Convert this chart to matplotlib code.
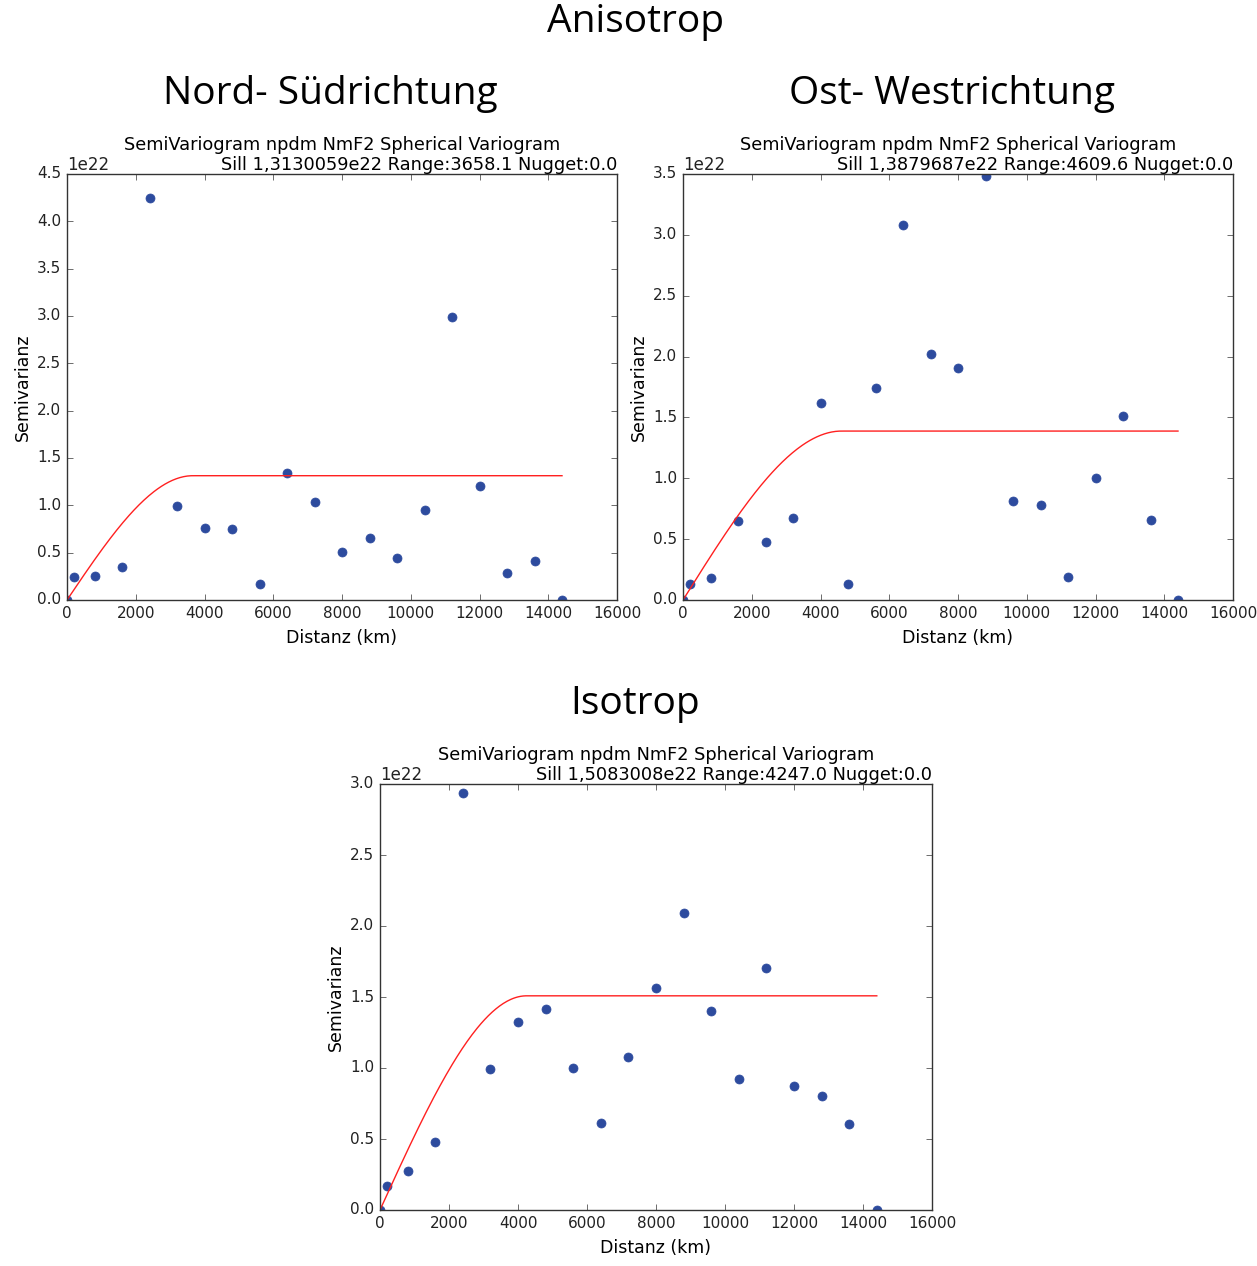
# Semivariogram comparison: anisotropic (N-S, E-W) and isotropic fit

import numpy as np
import matplotlib.pyplot as plt

plt.style.use('classic')

# Lag distances (km)
lags = [0, 200, 800, 1600, 2400, 3200, 4000, 4800, 5600, 6400, 7200,
        8000, 8800, 9600, 10400, 11200, 12000, 12800, 13600, 14400]

# Experimental semivariance in units of 1e22
gamma_ns = [0.0, 0.24, 0.25, 0.35, 4.25, 0.99, 0.76, 0.75, 0.165, 1.34, 1.035,
            0.51, 0.66, 0.44, 0.95, 2.99, 1.20, 0.28, 0.41, 0.0]
gamma_ew = [0.0, 0.13, 0.18, 0.645, 0.477, 0.674, 1.622, 0.134, 1.74, 3.083, 2.025,
            1.902, 3.483, 0.814, 0.784, 0.186, 1.003, 1.515, 0.66, 0.0]
gamma_iso = [0.0, 0.166, 0.273, 0.477, 2.936, 0.99, 1.323, 1.413, 0.998, 0.615, 1.074,
             1.565, 2.093, 1.399, 0.922, 1.701, 0.872, 0.803, 0.606, 0.0]

# Fitted spherical model parameters
sill_ns, range_ns = 1.3130059e22, 3658.1
sill_ew, range_ew = 1.3879687e22, 4609.6
sill_iso, range_iso = 1.5083008e22, 4247.0
nugget = 0.0

sill_labels = ['1,3130059e22', '1,3879687e22', '1,5083008e22']


def spherical(h, sill, rng, nug):
    h = np.asarray(h, dtype=float)
    r = np.clip(h / rng, 0, 1)
    return nug + (sill - nug) * (1.5 * r - 0.5 * r ** 3)


def plotVariogram(ax, gamma, sill, rng, sill_txt, ymax):
    g = np.array(gamma) * 1e22
    ax.plot(lags, g, 'o', color='#2d4b9e', mec='#2d4b9e', ms=6.5)
    h = np.linspace(0, lags[-1], 400)
    ax.plot(h, spherical(h, sill, rng, nug=nugget), color='#ff2020', lw=1.0)
    ax.set_xlim(0, 16000)
    ax.set_ylim(0, ymax * 1e22)
    ax.set_xticks(np.arange(0, 16001, 2000))
    ax.set_yticks(np.arange(0, ymax + 0.01, 0.5) * 1e22)
    ax.tick_params(labelsize=11, colors='#333333', labelcolor='#222222')
    ax.yaxis.get_offset_text().set_fontsize(12)
    # two-line title: first line centred, second flush right
    ax.annotate('SemiVariogram npdm NmF2 Spherical Variogram', xy=(0.5, 1),
                xycoords='axes fraction', xytext=(0, 17), textcoords='offset points',
                ha='center', va='baseline', fontsize=12.8)
    ax.annotate('Sill %s Range:%.1f Nugget:%.1f' % (sill_txt, rng, nugget), xy=(1, 1),
                xycoords='axes fraction', xytext=(0, 3), textcoords='offset points',
                ha='right', va='baseline', fontsize=12.8)
    ax.set_xlabel('Distanz (km)', fontsize=12.5, labelpad=6)
    ax.set_ylabel('Semivarianz', fontsize=12.5, labelpad=4)
    for s in ax.spines.values():
        s.set_color('#333333')


W, H = 1257, 1266
fig = plt.figure(figsize=(W / 100, H / 100), dpi=100, facecolor='white')

ax1 = fig.add_axes([67 / W, 1 - 600 / H, 550 / W, 426 / H])
ax2 = fig.add_axes([683 / W, 1 - 600 / H, 550 / W, 426 / H])
ax3 = fig.add_axes([380 / W, 1 - 1210 / H, 552 / W, 426 / H])

plotVariogram(ax1, gamma_ns, sill_ns, range_ns, sill_labels[0], 4.5)
plotVariogram(ax2, gamma_ew, sill_ew, range_ew, sill_labels[1], 3.5)
plotVariogram(ax3, gamma_iso, sill_iso, range_iso, sill_labels[2], 3.0)

head = dict(family='Open Sans', fontsize=28, ha='center', va='center')
fig.text(635 / W, 1 - 22 / H, 'Anisotrop', **head)
fig.text(330 / W, 1 - 94 / H, 'Nord- Südrichtung', **head)
fig.text(952 / W, 1 - 94 / H, 'Ost- Westrichtung', **head)
fig.text(635 / W, 1 - 704 / H, 'Isotrop', **head)

fig.savefig('out.png', dpi=100, facecolor='white')
